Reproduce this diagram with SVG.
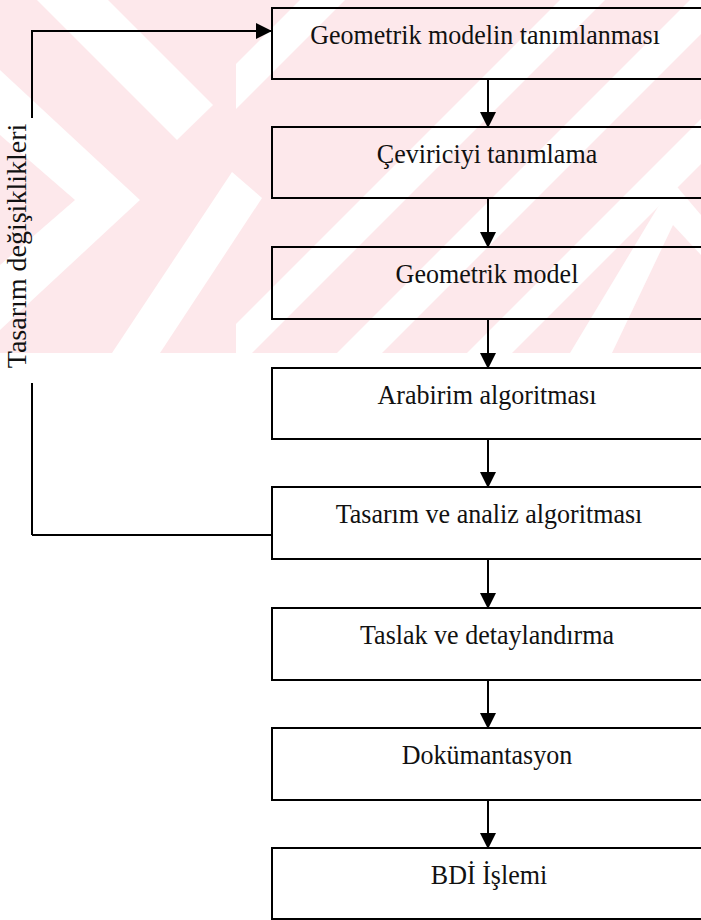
<svg xmlns="http://www.w3.org/2000/svg" width="701" height="920" viewBox="0 0 701 920">
  <style>
    .box { fill: none; stroke: #000; stroke-width: 2; }
    .lbl { font-family: "Liberation Serif", "Times New Roman", serif; font-size: 28px; fill: #111; text-anchor: middle; }
    .side { font-family: "Liberation Serif", "Times New Roman", serif; font-size: 28px; fill: #111; text-anchor: middle; }
    .link { fill: none; stroke: #000; stroke-width: 2; }
    .wm { fill: #fde8eb; }
    .gap { fill: #fff; }
  </style>
  <defs>
    <marker id="head" markerUnits="userSpaceOnUse" markerWidth="16" markerHeight="16" viewBox="0 0 16 16" refX="15" refY="8" orient="auto">
      <path d="M0,0 L16,8 L0,16 z" fill="#000"/>
    </marker>
    <clipPath id="band">
      <rect x="0" y="0" width="701" height="353"/>
    </clipPath>
    <clipPath id="rightside">
      <rect x="236" y="0" width="465" height="353"/>
    </clipPath>
  </defs>

  <rect width="701" height="920" fill="#fff"/>

  <!-- faint background pattern behind the upper part -->
  <g id="background" clip-path="url(#band)">
    <rect class="wm" x="0" y="0" width="701" height="353"/>
    <polygon class="gap" points="37,0 108,0 213,105 177,140"/>
    <polygon class="gap" points="0,70 140,200 0,330 0,265 75,200 0,135"/>
    <polygon class="gap" points="232,172 262,198 160,353 112,353"/>
    <g clip-path="url(#rightside)">
      <polygon class="gap" points="300,0 345,0 0,345 0,300"/>
      <polygon class="gap" points="560,0 605,0 252,353 207,353"/>
      <polygon class="gap" points="690,0 735,0 382,353 337,353"/>
      <polygon class="gap" points="820,0 865,0 512,353 467,353"/>
      <polygon class="gap" points="673,182 701,215 701,255 673,225 612,353 570,353"/>
    </g>
  </g>

  <!-- connectors -->
  <g id="connectors">
    <polyline class="link" points="32,118 32,31 271,31" marker-end="url(#head)"/>
    <line class="link" x1="32" y1="383" x2="32" y2="535"/>
    <line class="link" x1="32" y1="535" x2="272" y2="535"/>
    <line class="link" x1="488" y1="79" x2="488" y2="127" marker-end="url(#head)"/>
    <line class="link" x1="488" y1="198" x2="488" y2="247" marker-end="url(#head)"/>
    <line class="link" x1="488" y1="319" x2="488" y2="368" marker-end="url(#head)"/>
    <line class="link" x1="488" y1="439" x2="488" y2="487" marker-end="url(#head)"/>
    <line class="link" x1="488" y1="559" x2="488" y2="608" marker-end="url(#head)"/>
    <line class="link" x1="488" y1="680" x2="488" y2="728" marker-end="url(#head)"/>
    <line class="link" x1="488" y1="800" x2="488" y2="848" marker-end="url(#head)"/>
  </g>

  <!-- feedback label -->
  <g id="feedback-label">
    <text class="side" transform="translate(26,246) rotate(-90)">Tasarım değişiklikleri</text>
  </g>

  <!-- process steps; labels are set slightly narrow -->
  <g id="step1">
    <rect class="box" x="272" y="8" width="430" height="71"/>
    <text class="lbl" transform="translate(485,44) scale(0.93,1)">Geometrik modelin tanımlanması</text>
  </g>
  <g id="step2">
    <rect class="box" x="272" y="127" width="430" height="71"/>
    <text class="lbl" transform="translate(487,163) scale(0.93,1)">Çeviriciyi tanımlama</text>
  </g>
  <g id="step3">
    <rect class="box" x="272" y="247" width="430" height="72"/>
    <text class="lbl" transform="translate(487,283) scale(0.93,1)">Geometrik model</text>
  </g>
  <g id="step4">
    <rect class="box" x="272" y="368" width="430" height="71"/>
    <text class="lbl" transform="translate(487,404) scale(0.93,1)">Arabirim algoritması</text>
  </g>
  <g id="step5">
    <rect class="box" x="272" y="487" width="430" height="72"/>
    <text class="lbl" transform="translate(489,523) scale(0.93,1)">Tasarım ve analiz algoritması</text>
  </g>
  <g id="step6">
    <rect class="box" x="272" y="608" width="430" height="72"/>
    <text class="lbl" transform="translate(487,644) scale(0.93,1)">Taslak ve detaylandırma</text>
  </g>
  <g id="step7">
    <rect class="box" x="272" y="728" width="430" height="72"/>
    <text class="lbl" transform="translate(487,764) scale(0.93,1)">Dokümantasyon</text>
  </g>
  <g id="step8">
    <rect class="box" x="272" y="848" width="430" height="71"/>
    <text class="lbl" transform="translate(489,884) scale(0.93,1)">BDİ İşlemi</text>
  </g>
</svg>
